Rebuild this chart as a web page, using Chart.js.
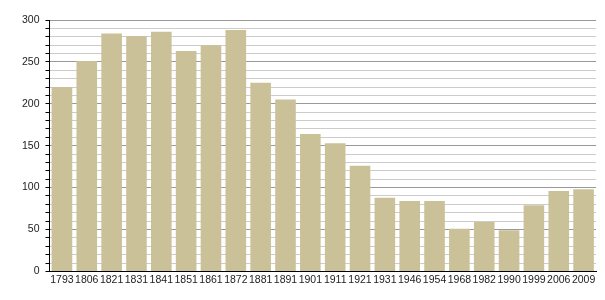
<!DOCTYPE html>
<html>
<head>
<meta charset="utf-8">
<script src="https://cdn.jsdelivr.net/npm/chart.js@4/dist/chart.umd.min.js"></script>
<style>
  html, body { margin: 0; padding: 0; background: #fff; }
  #wrap { width: 605px; height: 300px; }
</style>
</head>
<body>
<div id="wrap"><canvas id="popChart"></canvas></div>
<script>
// Census years and population
const years = ['1793', '1806', '1821', '1831', '1841', '1851', '1861', '1872', '1881', '1891', '1901',
               '1911', '1921', '1931', '1946', '1954', '1968', '1982', '1990', '1999', '2006', '2009'];
const population = [220, 251, 284, 281, 286, 263, 270, 288, 225, 205, 164,
                    153, 126, 88, 84, 84, 51, 59, 49, 79, 96, 98];
const yMax = 300;

const ctx = document.getElementById('popChart').getContext('2d');
new Chart(ctx, {
    type: 'bar',
    data: {
        labels: years,
        datasets: [{
            data: population,
            backgroundColor: '#cbc199',
            borderWidth: 0,
            barPercentage: 0.83,
            categoryPercentage: 1.0
        }]
    },
    options: {
        responsive: true,
        maintainAspectRatio: false,
        animation: false,
        layout: { padding: { left: 16, right: 9, top: 20, bottom: 12 } },
        plugins: { legend: { display: false }, tooltip: { enabled: false } },
        scales: {
            x: {
                grid: { display: false, drawTicks: false },
                border: { color: '#000', width: 1 },
                ticks: { color: '#222', font: { family: 'Liberation Sans', size: 10.5 }, maxRotation: 0, autoSkip: false, padding: 2 }
            },
            y: {
                min: 0,
                max: yMax,
                border: { color: '#000', width: 1 },
                grid: {
                    // major lines every 50, light ones every 10
                    color: c => (c.tick && c.tick.value % 50 === 0) ? '#999' : '#ccc',
                    tickColor: '#000',
                    tickLength: 4
                },
                ticks: {
                    stepSize: 10,
                    autoSkip: false,
                    color: '#222',
                    font: { family: 'Liberation Sans', size: 10.5 },
                    padding: 6,
                    callback: v => (v % 50 === 0 ? v : '')
                }
            }
        }
    }
});
</script>
</body>
</html>
